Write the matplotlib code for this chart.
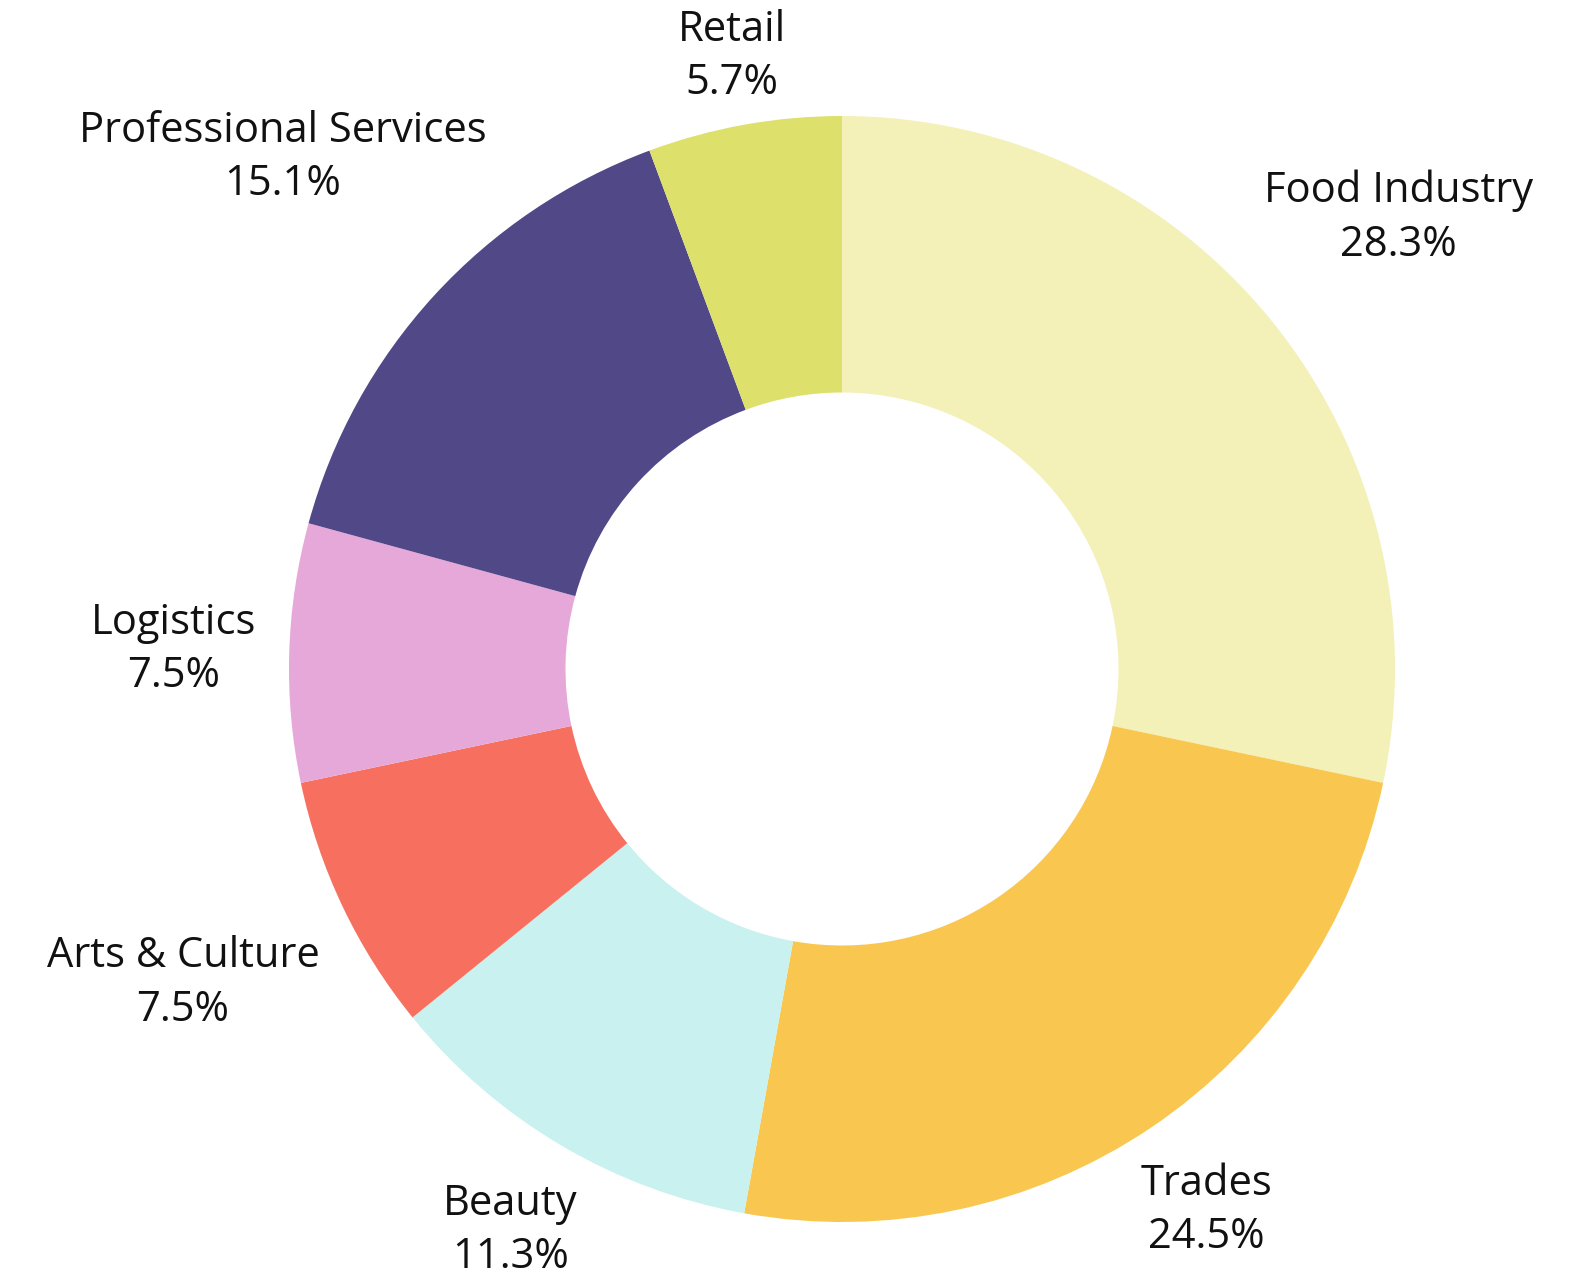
import numpy as np
from matplotlib import pyplot as plt

sectors = ["Food Industry", "Trades", "Beauty", "Arts & Culture",
           "Logistics", "Professional Services", "Retail"]
counts = [15, 13, 6, 4, 4, 8, 3]
colors = ["#F3F0B8", "#F9C74F", "#C8F1EF", "#F7705F",
          "#E6A8D9", "#504887", "#DDE06B"]
# how far out each label sits (in radii)
label_dist = [1.295, 1.18, 1.18, 1.32, 1.21, 1.37, 1.125]

plt.rcParams['font.family'] = ['Open Sans', 'DejaVu Sans']

W, H = 1579, 1281
fig = plt.figure(figsize=(W / 100, H / 100), dpi=100)
ax = fig.add_axes([0, 0, 1, 1])

r_px = 553
cx, cy = 842, 669

wedges, _ = ax.pie(counts, colors=colors, startangle=90, counterclock=False,
                   radius=1.0, wedgeprops=dict(width=0.5, linewidth=0))
ax.axis('off')
ax.set_aspect('equal')
ax.set_xlim(-cx / r_px, (W - cx) / r_px)
ax.set_ylim(-(H - cy) / r_px, cy / r_px)

total = sum(counts)
for w, name, c, d in zip(wedges, sectors, counts, label_dist):
    mid = np.deg2rad((w.theta1 + w.theta2) / 2)
    pct = 100 * c / total
    ax.text(d * np.cos(mid), d * np.sin(mid), f"{name}\n{pct:.1f}%",
            ha='center', va='center', fontsize=30, color='#111111',
            linespacing=1.35)

plt.savefig("out.png", dpi=100)
